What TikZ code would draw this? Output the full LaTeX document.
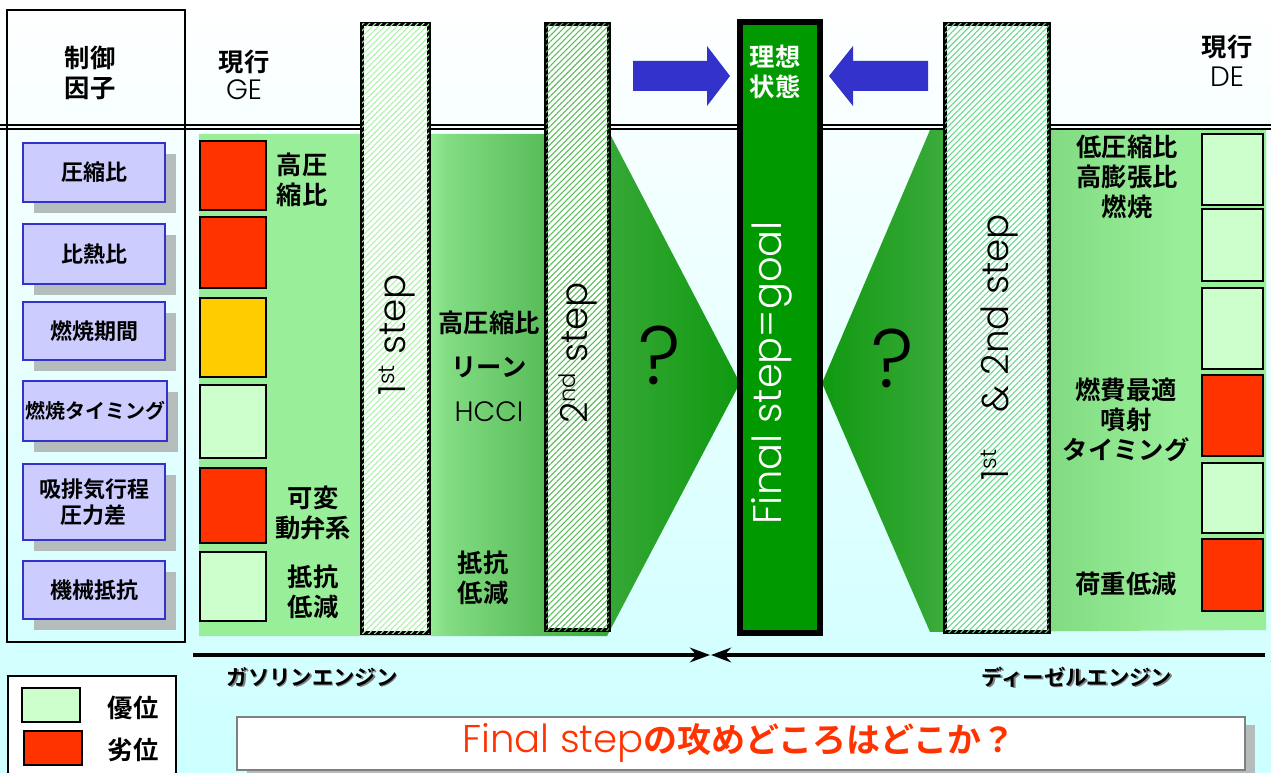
\documentclass[tikz,border=0pt]{standalone}
\usepackage{fontspec}
\setmainfont{Noto Sans CJK JP}[BoldFont={Noto Sans CJK JP Bold}]
\newfontfamily\latf{Poppins Light}
\usetikzlibrary{patterns.meta,arrows.meta,shadings}
\definecolor{bgc}{HTML}{CCFFFF}
\definecolor{lav}{HTML}{CCCCFF}
\definecolor{lavb}{HTML}{3333CC}
\definecolor{shd}{HTML}{B4BCBC}
\definecolor{bad}{HTML}{FF3300}
\definecolor{midc}{HTML}{FFCC00}
\definecolor{good}{HTML}{CCFFCC}
\definecolor{ga}{HTML}{99EE99}
\definecolor{gb}{HTML}{82DC82}
\definecolor{gc}{HTML}{58BC58}
\definecolor{gd}{HTML}{35A835}
\definecolor{ge}{HTML}{109910}
\definecolor{goal}{HTML}{009900}
\definecolor{arr}{HTML}{3333CC}
\pgfdeclarehorizontalshading{gel}{100bp}{color(0bp)=(ga); color(46bp)=(ga); color(48bp)=(gb); color(57bp)=(gc); color(63bp)=(gd); color(75bp)=(ge); color(100bp)=(ge)}
\pgfdeclarehorizontalshading{ger}{100bp}{color(0bp)=(ge); color(25bp)=(ge); color(37bp)=(gd); color(51bp)=(gb); color(65bp)=(ga); color(100bp)=(ga)}
\newcommand\supx[1]{\raisebox{0.3em}{\fontsize{17}{19}\selectfont #1}}
\tikzset{
 jb/.style={font=\fontsize{19}{22.5}\selectfont\bfseries, align=center, inner sep=0pt},
 btxt/.style={font=\fontsize{16.5}{20}\selectfont\bfseries, align=center, inner sep=0pt},
 lat/.style={font=\latf\fontsize{21}{24}\selectfont, inner sep=0pt},
 steptxt/.style={font=\latf\fontsize{28}{32}\selectfont, rotate=90, inner sep=0pt},
 sq/.style={draw=black, line width=1.1pt},
 bar/.style={draw=black, line width=3pt},
 hatch/.style={postaction={pattern={Lines[angle=45,distance=3.2pt,line width=0.8pt]}, pattern color=#1}},
 btnbox/.style={draw=lavb, fill=lav, line width=1.2pt},
 qmark/.style={font=\latf\fontsize{62}{70}\selectfont, inner sep=0pt},
 axis/.style={line width=3pt, -{Stealth[length=15pt,width=11pt]}},
}
\begin{document}
\begin{tikzpicture}[x=0.75pt,y=-0.75pt]
\useasboundingbox (0,0) rectangle (1271,773);
\shade[top color=white, bottom color=bgc] (0,0) rectangle (1271,773);
% green panels
\shade[shading=gel] (199,134) -- (610,134) -- (740,383) -- (607,636) -- (199,636) -- cycle;
\shade[shading=ger] (930,130) -- (1266,130) -- (1266,630) -- (930,632) -- (822,383) -- cycle;
% header double line
\draw[line width=1.2pt] (0,125) -- (1271,125);
\draw[line width=1.2pt] (0,129) -- (1271,129);
% left box
\draw[line width=1.5pt] (7,10) rectangle (185,642);
\node[jb] (hdr) at (90,73) {制御\\因子};
% buttons
\foreach \n/\y/\h/\t in {1/143/59/圧縮比, 2/224/60/比熱比, 3/302/58/燃焼期間, 5/464/76/{吸排気行程\\圧力差}, 6/561/58/機械抵抗}{
  \fill[shd] (34,\y+11) rectangle ++(142,\h);
  \draw[btnbox] (23,\y) rectangle ++(142,\h);
  \node[btxt] (b\n) at (94,\y+\h/2) {\t};
}
\fill[shd] (34,392) rectangle ++(144,60);
\draw[btnbox] (23,381) rectangle ++(144,60);
\node[btxt, font=\fontsize{15}{18}\selectfont\bfseries] (b4) at (95,411) {燃焼タイミング};
% GE squares
\foreach \a/\b/\c in {141/210/bad, 217/288/bad, 298/377/midc, 385/458/good, 468/543/bad, 552/621/good}{
  \draw[sq, fill=\c] (200,\a) rectangle (266,\b);
}
% DE squares
\foreach \a/\b/\c in {134/205/good, 209/281/good, 288/369/good, 375/456/bad, 463/533/good, 539/611/bad}{
  \draw[sq, fill=\c] (1202,\a) rectangle (1263,\b);
}
% header texts
\node[jb] (hge1) at (244,62) {現行};
\node[lat] (hge2) at (244,90) {GE};
\node[jb] (hde1) at (1227,47) {現行};
\node[lat] (hde2) at (1227,77) {DE};
% GE labels
\node[jb] (l1) at (302,180) {高圧\\縮比};
\node[jb] (l2) at (313,513) {可変\\動弁系};
\node[jb] (l3) at (313,592) {抵抗\\低減};
% middle labels
\node[jb] (m1) at (489,323) {高圧縮比};
\node[jb] (m2) at (489,367) {リーン};
\node[lat] (m3) at (489,412) {HCCI};
\node[jb] (m4) at (483,578) {抵抗\\低減};
% DE labels
\node[jb] (r1) at (1127,177) {低圧縮比\\高膨張比\\燃焼};
\node[jb] (r2) at (1126,420) {燃費最適\\噴射\\タイミング};
\node[jb] (r3) at (1126,584) {荷重低減};
% bars
\draw[bar, fill=white, hatch={ga!80!white}] (362,24) rectangle (429,633);
\node[steptxt] (s1) at (397,335) {1\supx{st} step};
\draw[bar, fill=white, hatch={gc}] (546,24) rectangle (609,630);
\node[steptxt] (s2) at (578,353) {2\supx{nd} step};
\draw[bar, line width=4pt, fill=goal] (740,22) rectangle (820,633);
\node[steptxt, text=white, font=\latf\fontsize{30}{34}\selectfont] (fs) at (772,373) {Final step=goal};
\node[jb, text=white] (ideal) at (775,72) {理想\\状態};
\draw[bar, fill=white, hatch={teal!50!green!60}] (945,24) rectangle (1049,632);
\node[steptxt] (s12) at (999,347) {1\supx{st}\hspace{1em}\& 2nd step};
% question marks
\node[qmark] (q1) at (660,355) {?};
\node[qmark] (q2) at (893,358) {?};
% blue arrows
\fill[arr] (633,61) -- (707,61) -- (707,46) -- (730,76) -- (707,106) -- (707,91) -- (633,91) -- cycle;
\fill[arr] (928,61) -- (853,61) -- (853,46) -- (829,76) -- (853,106) -- (853,91) -- (928,91) -- cycle;
% bottom axis
\coordinate (gl) at (193,655);
\coordinate (gr) at (1265,655);
\coordinate (ml) at (710,655);
\coordinate (mr) at (711,655);
\draw[axis] (gl) -- (ml);
\draw[axis] (gr) -- (mr);
\node[jb, font=\fontsize{16}{20}\selectfont\bfseries, text=gray] (gas0) at (313.5,678.5) {ガソリンエンジン};
\node[jb, font=\fontsize{16}{20}\selectfont\bfseries] (gas) at (312,677) {ガソリンエンジン};
\node[jb, font=\fontsize{16}{20}\selectfont\bfseries, text=gray] (dsl0) at (1078.5,678.5) {ディーゼルエンジン};
\node[jb, font=\fontsize{16}{20}\selectfont\bfseries] (dsl) at (1077,677) {ディーゼルエンジン};
% legend
\draw[fill=white, line width=1pt] (8,676) rectangle (176,780);
\draw[sq, fill=good] (22,688) rectangle (80,722);
\draw[sq, fill=bad] (24,731) rectangle (82,765);
\node[jb] (lg1) at (133,708) {優位};
\node[jb] (lg2) at (133,750) {劣位};
% bottom question box
\fill[shd] (247,725) rectangle (1255,778);
\draw[draw=gray, fill=white, line width=1pt] (237,717) rectangle (1245,770);
\node[inner sep=0pt, text=bad, font=\fontsize{25.5}{28}\selectfont] (qq) at (739,743) {{\latf\fontsize{29}{32}\selectfont Final step}{\bfseries の攻めどころはどこか？}};
\end{tikzpicture}
\end{document}
